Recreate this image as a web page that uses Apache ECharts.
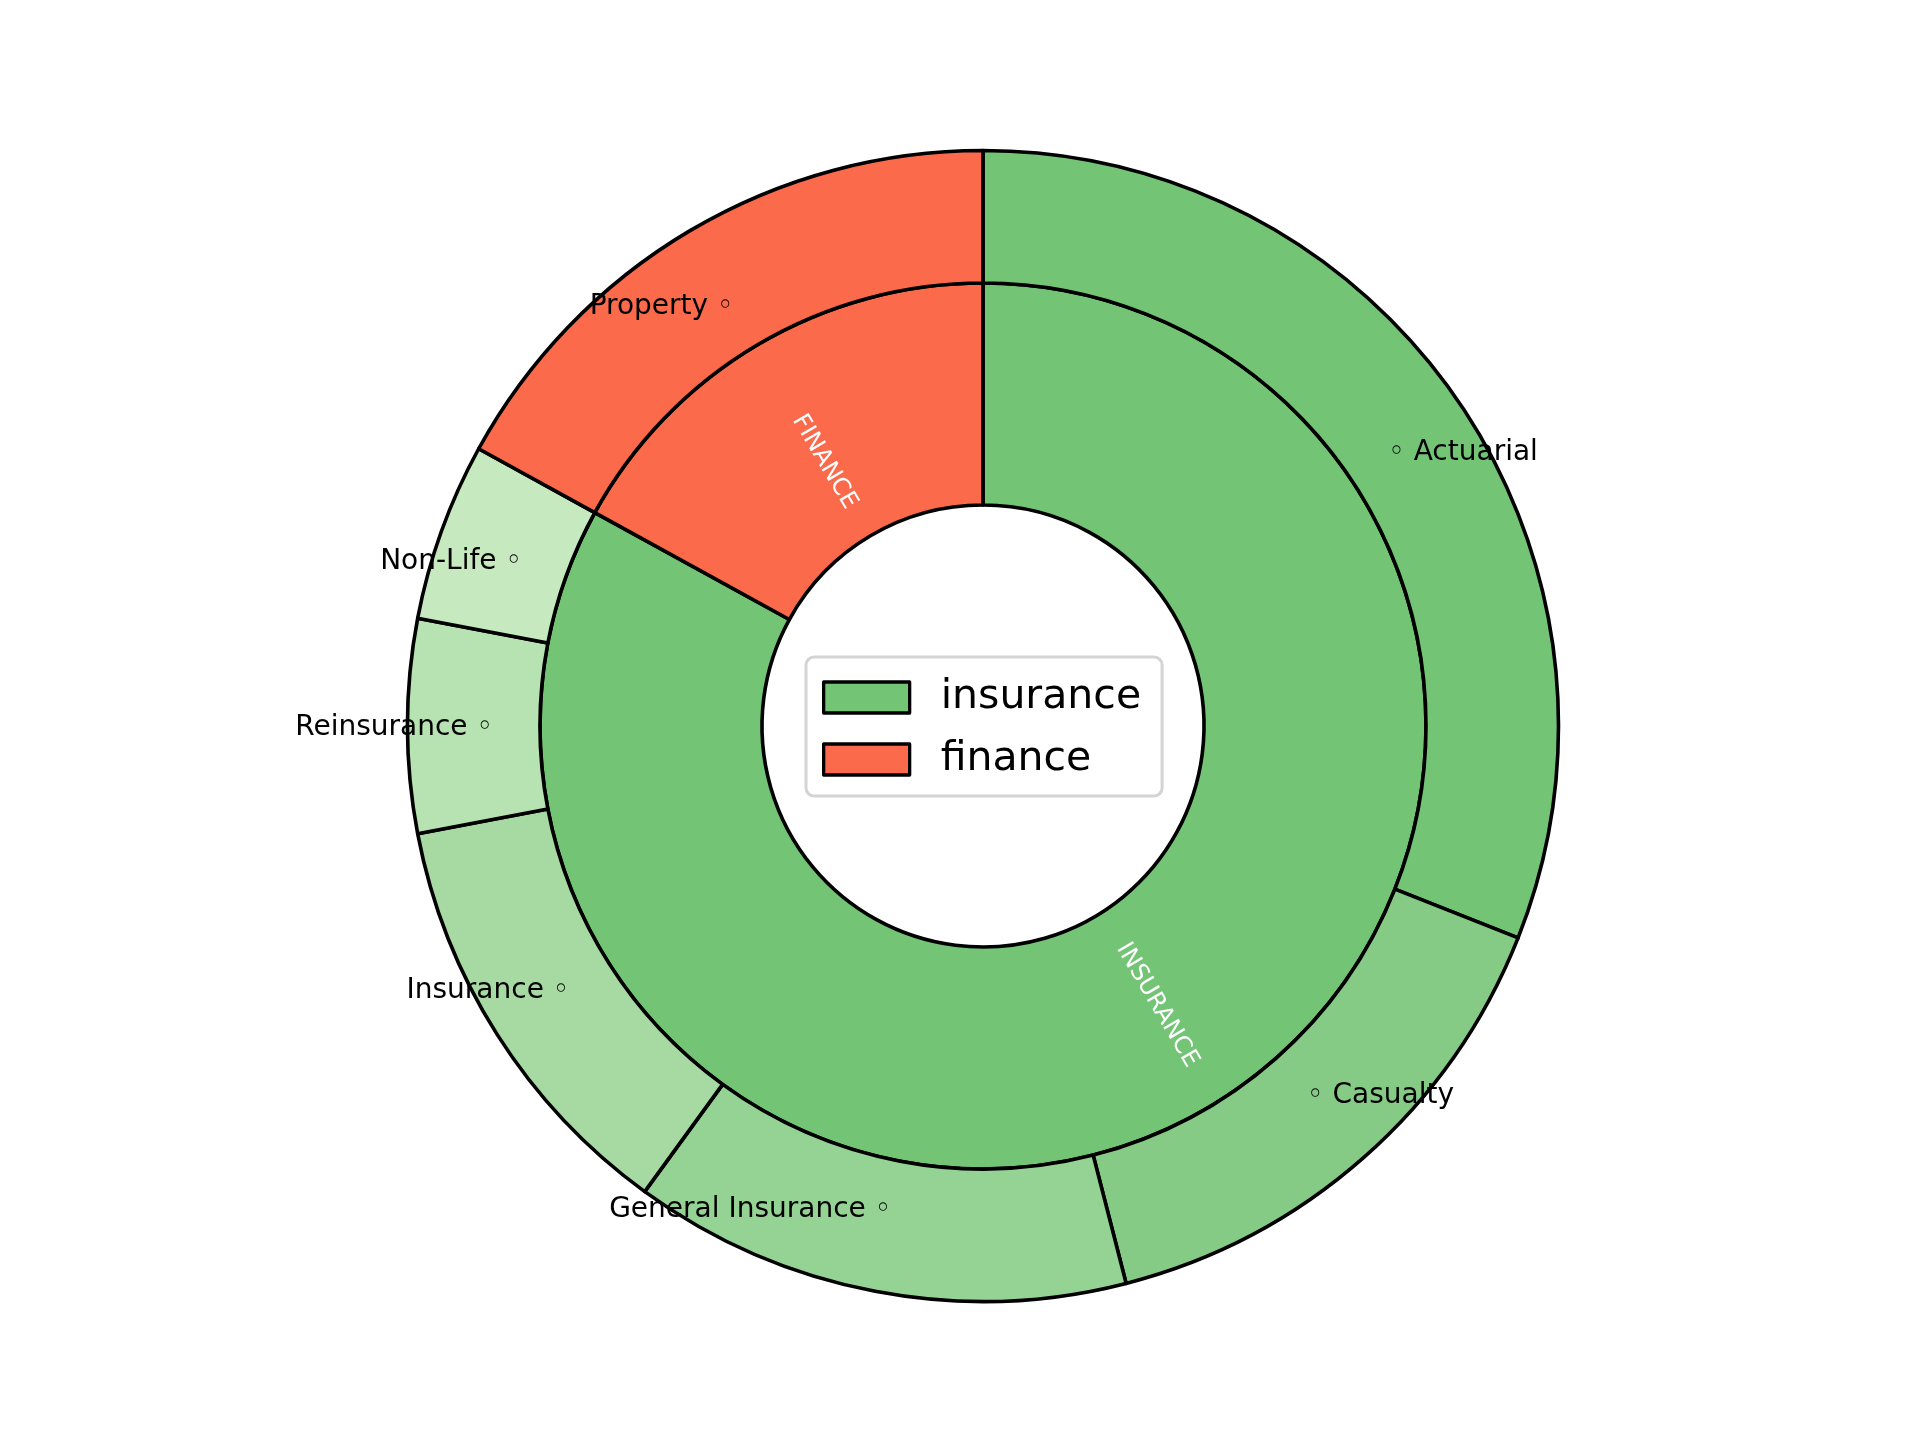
<!DOCTYPE html>
<html><head><meta charset="utf-8">
<script src="https://cdn.jsdelivr.net/npm/echarts@6/dist/echarts.min.js"></script>
<style>html,body{margin:0;padding:0;background:#fff}#c{width:1920px;height:1440px}</style>
</head><body><div id="c"></div>
<script>
const groupNames = ['insurance', 'finance'];
const groupValues = [83, 17];
const groupColors = ['#74c476', '#fb6a4a'];
const subNames = ['Actuarial', 'Casualty', 'General Insurance', 'Insurance', 'Reinsurance', 'Non-Life', 'Property'];
const subValues = [31, 15, 14, 12, 6, 5, 17];
const subColors = ['#74c476', '#85cb85', '#95d394', '#a6daa2', '#b7e2b1', '#c7e9c0', '#fb6a4a'];

function midFractions(vals) {
  const tot = vals.reduce((a, b) => a + b, 0);
  const out = []; let acc = 0;
  vals.forEach(v => { out.push((acc + v / 2) / tot); acc += v; });
  return out;
}
const subMid = midFractions(subValues);
const isRight = subMid.map(f => f < 0.5);
// small nudge of the inner ring labels in their own (rotated) text frame, px
const groupLabelDx = [-6, 27];
const groupLabelDy = [-8, 2];

const CX = 983, CY = 726;
const FONT = 'DejaVu Sans';
const border = { borderColor: '#000', borderWidth: 3.6 };

const chart = echarts.init(document.getElementById('c'), null, { renderer: 'canvas' });
chart.setOption({
  animation: false,
  backgroundColor: '#fff',
  legend: {
    data: groupNames, orient: 'vertical', left: 806, top: 657,
    backgroundColor: '#fff', borderColor: '#d4d4d4', borderWidth: 3, borderRadius: 8,
    padding: [20, 21, 16, 16], itemWidth: 86, itemHeight: 31, itemGap: 21, icon: 'rect',
    selectedMode: false,
    itemStyle: { borderColor: '#000', borderWidth: 3.3 },
    textStyle: { fontSize: 41, fontFamily: FONT, color: '#000', padding: [0, 0, 0, 26], lineHeight: 31 }
  },
  series: [
    {
      type: 'pie', center: [CX, CY], radius: [221, 443], startAngle: 90, clockwise: true,
      silent: true, itemStyle: border,
      label: { show: true, position: 'inside', rotate: 'radial', color: '#fff', fontSize: 24, fontFamily: FONT,
        formatter: p => p.name.toUpperCase() },
      labelLayout: p => ({ dx: groupLabelDx[p.dataIndex], dy: groupLabelDy[p.dataIndex] }),
      labelLine: { show: false },
      data: groupNames.map((n, i) => ({ name: n, value: groupValues[i], itemStyle: { color: groupColors[i] } }))
    },
    {
      type: 'pie', center: [CX, CY], radius: [443, 575.5], startAngle: 90, clockwise: true,
      silent: true, itemStyle: border,
      label: { show: false }, labelLine: { show: false },
      data: subNames.map((n, i) => ({ name: n, value: subValues[i], itemStyle: { color: subColors[i] } }))
    },
    {
      type: 'pie', center: [CX, CY], radius: [422, 552], startAngle: 90, clockwise: true,
      silent: true, itemStyle: { color: 'rgba(0,0,0,0)', borderWidth: 0 },
      label: { show: true, position: 'inside', color: '#000', fontSize: 28, fontFamily: FONT,
        formatter: p => isRight[p.dataIndex] ? '\u25E6 ' + p.name : p.name + ' \u25E6' },
      labelLayout: p => ({ align: isRight[p.dataIndex] ? 'left' : 'right', dy: 2 }),
      labelLine: { show: false },
      data: subNames.map((n, i) => ({ name: n, value: subValues[i] }))
    }
  ]
});
</script></body></html>
